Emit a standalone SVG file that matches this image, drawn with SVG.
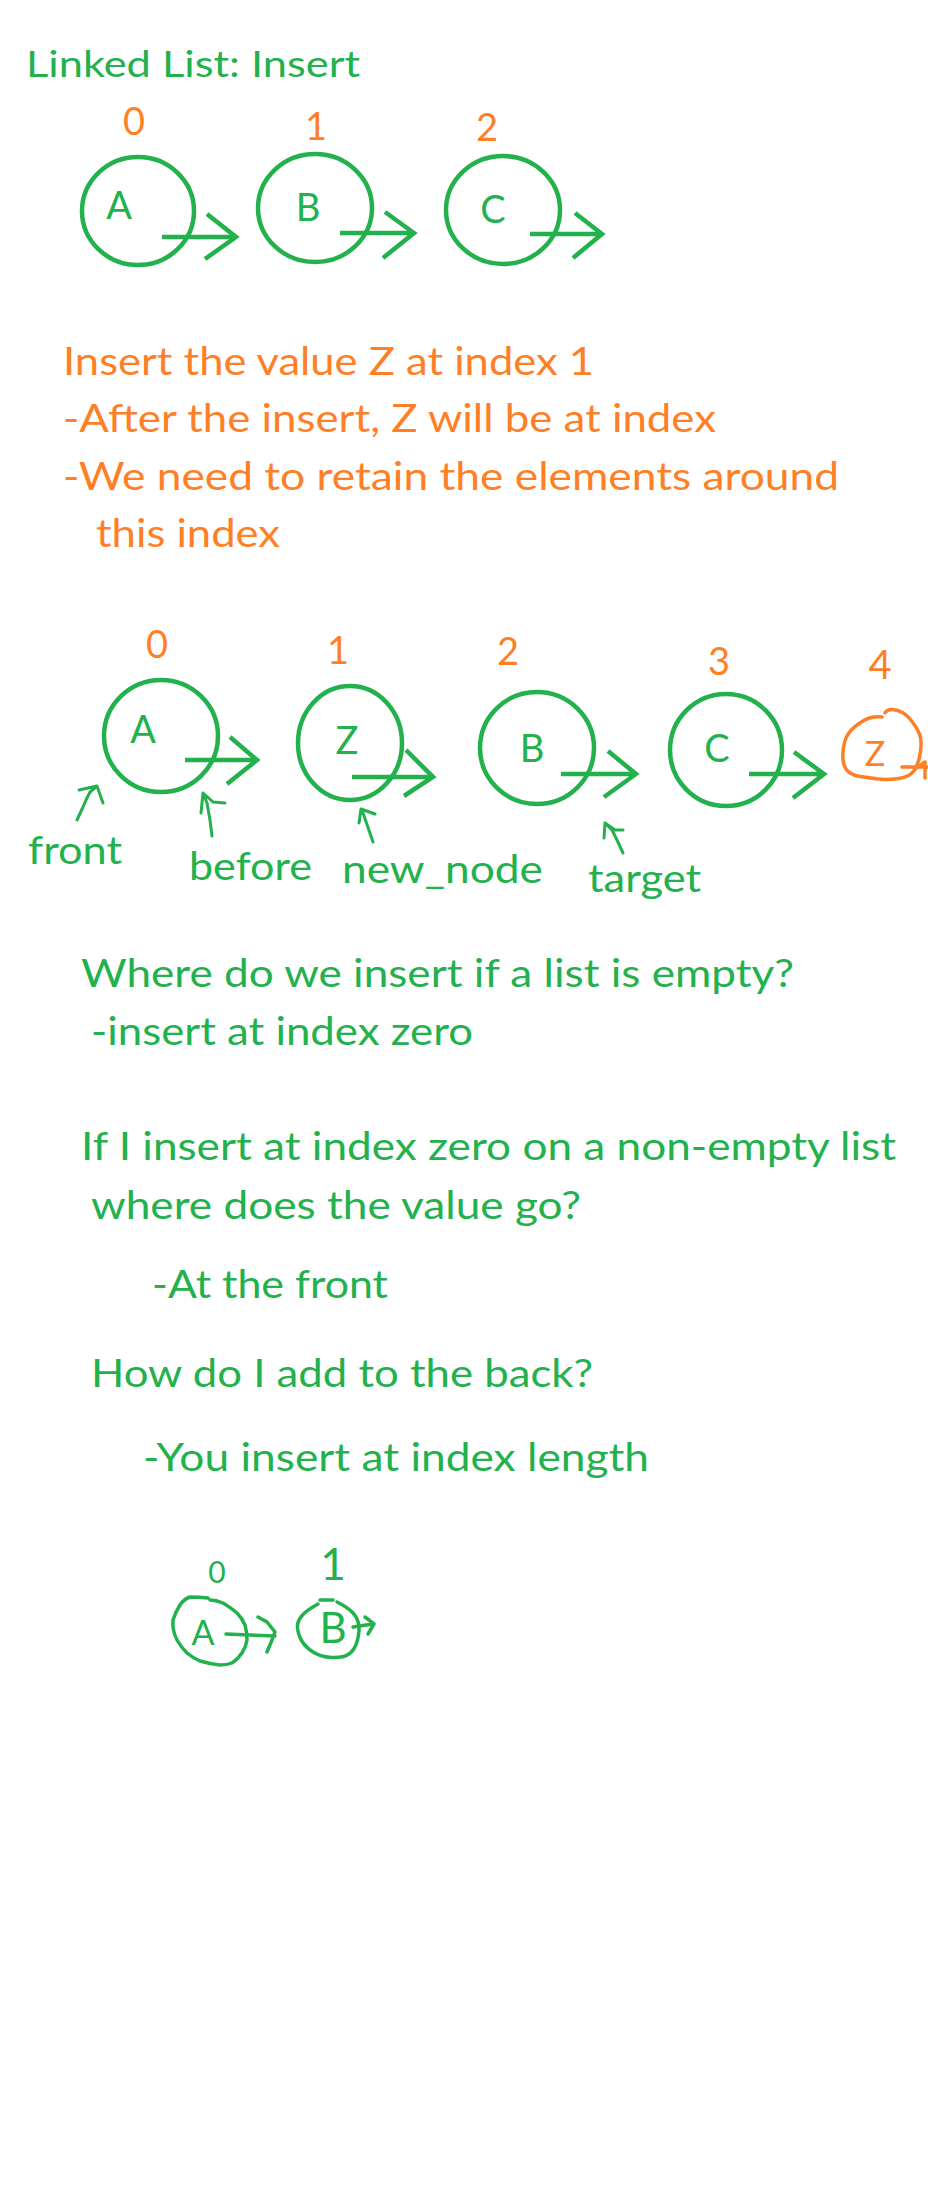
<svg xmlns="http://www.w3.org/2000/svg" width="928" height="2208" viewBox="0 0 928 2208">
<style>
text{font-family:Lato,"Liberation Sans",sans-serif}
.g{fill:#22b14c}
.o{fill:#ff7f27}
.t{font-size:38px}
.ring{fill:none;stroke:#22b14c;stroke-width:4.5}
.hand{fill:none;stroke:#22b14c;stroke-width:3.5;stroke-linecap:round;stroke-linejoin:round}
.handO{fill:none;stroke:#ff7f27;stroke-width:3.5;stroke-linecap:round;stroke-linejoin:round}
.arr{fill:none;stroke:#22b14c;stroke-width:4.5;stroke-linecap:butt;stroke-linejoin:miter}
.ptr{fill:none;stroke:#22b14c;stroke-width:3;stroke-linecap:round;stroke-linejoin:round}
.mid{text-anchor:middle}
</style>
<rect width="928" height="2208" fill="#ffffff"/>

<text id="title" class="g" x="26" y="77" font-size="36" textLength="334" lengthAdjust="spacingAndGlyphs">Linked List: Insert</text>

<!-- Top list -->
<g id="top-A">
<text class="o t mid" x="134" y="135">0</text>
<ellipse class="ring" cx="138" cy="211" rx="56" ry="54"/>
<text class="g t mid" x="119" y="219">A</text>
</g>
<g id="top-B">
<text class="o t mid" x="316" y="140">1</text>
<ellipse class="ring" cx="315" cy="208" rx="57" ry="54"/>
<text class="g t mid" x="308" y="221">B</text>
</g>
<g id="top-C">
<text class="o t mid" x="487" y="141">2</text>
<ellipse class="ring" cx="503" cy="210" rx="57" ry="54"/>
<text class="g t mid" x="493" y="223">C</text>
</g>

<g id="notes-orange" class="o t">
<text x="63" y="375" textLength="531" lengthAdjust="spacingAndGlyphs">Insert the value Z at index 1</text>
<text x="63" y="432" textLength="653" lengthAdjust="spacingAndGlyphs">-After the insert, Z will be at index</text>
<text x="63" y="490" textLength="776" lengthAdjust="spacingAndGlyphs">-We need to retain the elements around</text>
<text x="96" y="547" textLength="184" lengthAdjust="spacingAndGlyphs">this index</text>
</g>

<!-- Second list -->
<g id="mid-A">
<text class="o t mid" x="157" y="658">0</text>
<ellipse class="ring" cx="161" cy="736" rx="57" ry="56"/>
<text class="g t mid" x="143" y="743">A</text>
</g>
<g id="mid-Z">
<text class="o t mid" x="338" y="664">1</text>
<ellipse class="ring" cx="350" cy="743" rx="52" ry="57"/>
<text class="g t mid" x="347" y="754">Z</text>
</g>
<g id="mid-B">
<text class="o t mid" x="508" y="665">2</text>
<ellipse class="ring" cx="537" cy="748" rx="57" ry="56"/>
<text class="g t mid" x="532" y="762">B</text>
</g>
<g id="mid-C">
<text class="o t mid" x="719" y="675">3</text>
<ellipse class="ring" cx="726" cy="750" rx="56" ry="56"/>
<text class="g t mid" x="717" y="762">C</text>
</g>
<g id="mid-Z-new">
<text class="o mid" x="880" y="679" font-size="40">4</text>
<path class="handO" d="M882 717 Q870 716 861.5 722 Q853 727 848.5 733.5 Q844 740 843 751.5 Q842 763 846 769 Q850 775 860 776.5 Q870 778 878.5 779 Q887 780 898.5 778.5 Q910 777 914.5 770 Q919 763 920.5 751.5 Q922 740 919.5 734 Q917 728 912 721.5 Q907 715 902.5 712.5 Q898 710 892.5 709.5 Q887 709 885 713"/>
<text class="o mid" x="875" y="766" font-size="34">Z</text>
</g>

<g id="labels" class="g t">
<text x="28" y="864" textLength="94" lengthAdjust="spacingAndGlyphs">front</text>
<text x="189" y="880" textLength="123" lengthAdjust="spacingAndGlyphs">before</text>
<text x="342" y="883" textLength="201" lengthAdjust="spacingAndGlyphs">new_node</text>
<text x="588" y="892" textLength="113" lengthAdjust="spacingAndGlyphs">target</text>
</g>

<g id="notes-green" class="g t">
<text x="81" y="987" textLength="713" lengthAdjust="spacingAndGlyphs">Where do we insert if a list is empty?</text>
<text x="91" y="1045" textLength="382" lengthAdjust="spacingAndGlyphs">-insert at index zero</text>
<text x="81" y="1160" textLength="815" lengthAdjust="spacingAndGlyphs">If I insert at index zero on a non-empty list</text>
<text x="91" y="1219" textLength="490" lengthAdjust="spacingAndGlyphs">where does the value go?</text>
<text x="152" y="1298" textLength="236" lengthAdjust="spacingAndGlyphs">-At the front</text>
<text x="91" y="1387" textLength="502" lengthAdjust="spacingAndGlyphs">How do I add to the back?</text>
<text x="143" y="1471" textLength="506" lengthAdjust="spacingAndGlyphs">-You insert at index length</text>
</g>

<!-- Bottom sketch -->
<g id="bot-A">
<text class="g mid" x="217" y="1583" font-size="30">0</text>
<path class="hand" d="M208 1598 Q199 1597 190 1597 Q184 1599 180 1605 Q176 1611 173 1620 Q172 1630 177 1640 Q181 1647 187 1653 Q193 1658 200 1661 Q210 1664 220 1665 Q227 1665 232 1663 Q238 1659 242 1653 Q246 1647 247 1640 Q247 1632 245 1625 Q242 1618 237 1613 Q230 1607 223 1603 Q216 1600 210 1600"/>
<text class="g mid" x="203" y="1645" font-size="34">A</text>
</g>
<g id="bot-B">
<text class="g mid" x="333" y="1580" font-size="44">1</text>
<path class="hand" d="M320 1600 L333 1600 M337 1602 Q347 1607 352 1612 Q357 1617 358.5 1623.5 Q360 1630 357.5 1640 Q355 1650 349 1654 Q343 1658 331.5 1657.5 Q320 1657 311.5 1651 Q303 1645 300 1637.5 Q297 1630 297.5 1625 Q298 1620 302.5 1615 Q307 1610 318 1604"/>
<text class="g mid" x="333" y="1643" font-size="42">B</text>
</g>

<g id="connectors">
<path class="arr" d="M162 237 L236 237 M207 214 L236 237 L205 259"/>
<path class="arr" d="M340 233 L414 233 M385 212 L414 233 L383 258"/>
<path class="arr" d="M530 234 L602 234 M575 213 L602 234 L573 258"/>

<path class="arr" d="M185 760 L257 760 M230 737 L257 760 L227 784"/>
<path class="arr" d="M352 777 L433 777 M406 750 L433 777 L404 796"/>
<path class="arr" d="M561 774 L636 774 M608 751 L636 774 L604 797"/>
<path class="arr" d="M749 774 L824 774 M794 752 L824 774 L793 798"/>
<path class="handO" d="M902 767 L927 767 M915 769 L925 762 L925 778"/>

<path class="ptr" d="M77 820 L83 807 L86 800 L90 792 L97 786 M79 790 L97 786 L103 803"/>
<path class="ptr" d="M212 836 L210 820 L207 803 L203 793 M201 813 L203 793 L213 802 L225 803"/>
<path class="ptr" d="M373 842 L362 810 M359 823 L361 809 L375 814"/>
<path class="ptr" d="M623 853 L617 840 L612 830 L605 823 M604 838 L605 823 L615 830 L623 830"/>

<path class="hand" d="M226 1634 L275 1636 M258 1617 L267 1622 L275 1632 L272 1640 L267 1652"/>
<path class="hand" d="M353 1627 L373 1624 M365 1617 L374 1624 L368 1634"/>
</g>
</svg>
